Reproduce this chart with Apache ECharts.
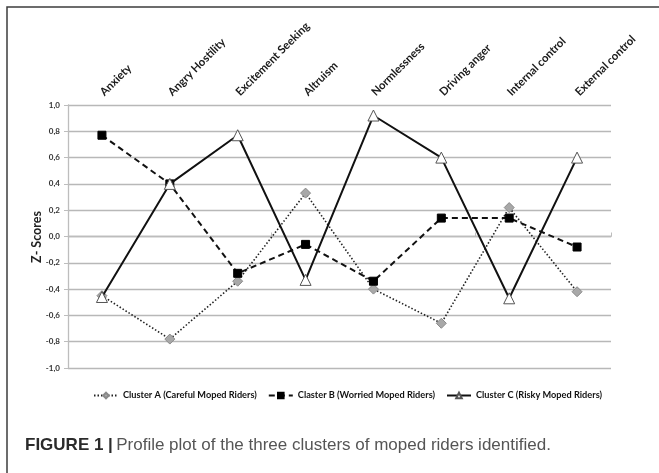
<!DOCTYPE html>
<html>
<head>
<meta charset="utf-8">
<script src="https://cdn.jsdelivr.net/npm/echarts@6/dist/echarts.min.js"></script>
<style>
html,body{margin:0;padding:0;background:#fff;}
#chart{width:659px;height:473px;}
</style>
</head>
<body>
<div id="chart"></div>
<script>
const categories = ['Anxiety','Angry Hostility','Excitement Seeking','Altruism','Normlessness','Driving anger','Internal control','External control'];
const clusterA = [-0.45, -0.78, -0.34, 0.33, -0.40, -0.66, 0.22, -0.42];
const clusterB = [0.77, 0.40, -0.28, -0.06, -0.34, 0.14, 0.14, -0.08];
const clusterC = [-0.46, 0.40, 0.77, -0.33, 0.92, 0.60, -0.47, 0.60];
const seriesNames = ['Cluster A (Careful Moped Riders)', 'Claster B (Worried Moped Riders)', 'Cluster C (Risky Moped Riders)'];
const yTicks = {min: -1, max: 1, step: 0.2};
const yTitle = 'Z- Scores';

const chart = echarts.init(document.getElementById('chart'));
const font = 'Lato';
chart.setOption({
  backgroundColor: '#ffffff',
  animation: false,
  grid: {left: 68, right: 48, top: 105, bottom: 105, containLabel: false},
  xAxis: [
    {
      type: 'category', position: 'top', data: categories, boundaryGap: true,
      axisLine: {show: false, onZero: false}, axisTick: {show: false},
      axisLabel: {rotate: -45, margin: 11, fontFamily: font, fontWeight: 'bold', fontSize: 11.3, color: '#1a1a1a', interval: 0}
    },
    {
      type: 'category', position: 'bottom', data: categories, boundaryGap: true,
      axisLine: {show: true, onZero: true, lineStyle: {color: '#bdbdbd', width: 1.3}},
      axisTick: {show: true, inside: true, length: 4, lineStyle: {color: '#bdbdbd'}},
      axisLabel: {show: false}
    }
  ],
  yAxis: {
    type: 'value', min: yTicks.min, max: yTicks.max, interval: yTicks.step,
    axisLine: {show: true, lineStyle: {color: '#bdbdbd', width: 1.3}},
    axisTick: {show: true, length: 4, lineStyle: {color: '#bdbdbd'}},
    axisLabel: {fontFamily: font, fontWeight: 'bold', fontSize: 8, color: '#333', margin: 8,
      formatter: v => (Math.abs(v) < 1e-9 ? 0 : v).toFixed(1).replace('.', ',')},
    splitLine: {show: true, lineStyle: {color: '#b8b8b8', width: 1.3}}
  },
  legend: {
    top: 386, left: 88, itemGap: 11, itemWidth: 24, itemHeight: 7,
    textStyle: {fontFamily: font, fontWeight: 'bold', fontSize: 9.2, color: '#111'},
    data: seriesNames
  },
  series: [
    {
      name: seriesNames[0], type: 'line', data: clusterA, xAxisIndex: 0,
      symbol: 'diamond', symbolSize: 10,
      lineStyle: {color: '#222', width: 1.6, type: [1.5, 2]},
      itemStyle: {color: '#a8a8a8', borderColor: '#8a8a8a', borderWidth: 1},
      z: 2
    },
    {
      name: seriesNames[1], type: 'line', data: clusterB, xAxisIndex: 0,
      symbol: 'rect', symbolSize: 8,
      lineStyle: {color: '#111', width: 2, type: [6, 4]},
      itemStyle: {color: '#000', borderColor: '#000', borderWidth: 1},
      z: 3
    },
    {
      name: seriesNames[2], type: 'line', data: clusterC, xAxisIndex: 0,
      symbol: 'triangle', symbolSize: 11,
      lineStyle: {color: '#111', width: 2, type: 'solid'},
      itemStyle: {color: '#fff', borderColor: '#555', borderWidth: 1},
      z: 4
    }
  ],
  graphic: [
    {type: 'rect', shape: {x: 7, y: 7, width: 720, height: 600}, style: {fill: 'none', stroke: '#3c3c3c', lineWidth: 1.5}, silent: true},
    {type: 'text', x: 37, y: 237, rotation: Math.PI / 2, style: {
      text: yTitle, fontFamily: font, fontWeight: 'bold', fontSize: 12.5, fill: '#222',
      align: 'center', verticalAlign: 'middle'
    }},
    {type: 'text', left: 25, top: 437, style: {
      text: '{b|FIGURE 1 |} {r|Profile plot of the three clusters of moped riders identified.}',
      rich: {
        b: {fontFamily: 'Liberation Sans', fontWeight: 'bold', fontSize: 17, fill: '#2b2b2b'},
        r: {fontFamily: 'Liberation Sans', fontSize: 17, fill: '#555'}
      }
    }}
  ]
});
</script>
</body>
</html>
